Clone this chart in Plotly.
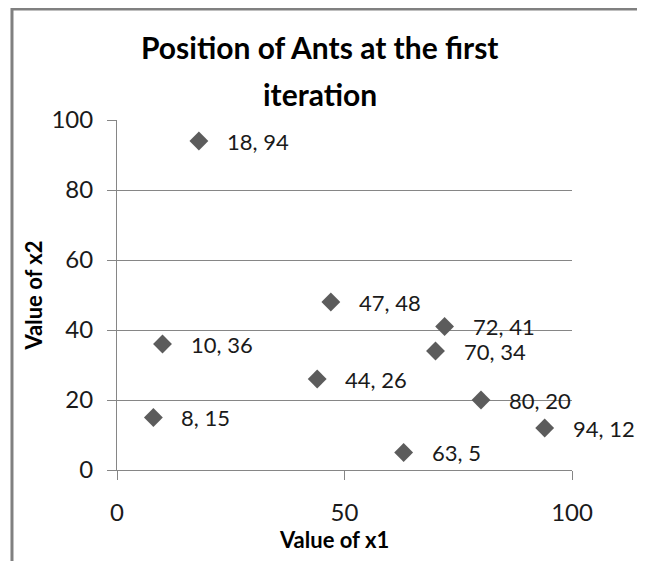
import plotly.graph_objects as go

# Data
x1_values = [18, 47, 72, 10, 70, 44, 80, 8, 94, 63]
x2_values = [94, 48, 41, 36, 34, 26, 20, 15, 12, 5]
x_ticks = [0, 50, 100]
y_ticks = [0, 20, 40, 60, 80, 100]
title_lines = ["Position of Ants at the first", "iteration"]
x_title = "Value of x1"
y_title = "Value of x2"

FONT = "Lato, 'Open Sans', sans-serif"
GRID = "#868686"
TEXT = "#1a1a1a"

fig = go.Figure()
fig.add_trace(go.Scatter(
    x=x1_values, y=x2_values, mode="markers",
    marker=dict(symbol="diamond", size=14.5, color="#5c5c5c", line=dict(width=0)),
    hoverinfo="x+y", showlegend=False,
))

annotations = []
for xv, yv in zip(x1_values, x2_values):
    annotations.append(dict(
        x=xv, y=yv, xref="x", yref="y", text=f"{xv}, {yv}",
        showarrow=False, xanchor="left", yanchor="middle", xshift=26,
        font=dict(family=FONT, size=22, color=TEXT),
    ))

# Title lines
annotations.append(dict(x=0.446, y=1.209, xref="paper", yref="paper", text=title_lines[0],
                        showarrow=False, xanchor="center", yanchor="middle",
                        font=dict(family=FONT, size=30, color="#000000", weight="bold")))
annotations.append(dict(x=0.446, y=1.075, xref="paper", yref="paper", text=title_lines[1],
                        showarrow=False, xanchor="center", yanchor="middle",
                        font=dict(family=FONT, size=30, color="#000000", weight="bold")))
# X axis title
annotations.append(dict(x=0.477, y=-0.198, xref="paper", yref="paper", text=x_title,
                        showarrow=False, xanchor="center", yanchor="middle",
                        font=dict(family=FONT, size=22, color="#000000", weight="bold")))

fig.update_layout(
    width=637, height=553,
    margin=dict(l=109, r=73, t=112, b=91, pad=0),
    paper_bgcolor="white", plot_bgcolor="white",
    font=dict(family=FONT, color=TEXT),
    annotations=annotations,
    shapes=[dict(type="rect", xref="paper", yref="paper",
                 x0=-0.2308, x1=1.5, y0=-1.0, y1=1.317,
                 line=dict(color="#808080", width=3), layer="below")],
)

fig.update_xaxes(
    range=[0, 100], tickvals=x_ticks, ticktext=[str(t) for t in x_ticks],
    showgrid=False, zeroline=False,
    showline=True, linecolor=GRID, linewidth=1,
    ticks="outside", ticklen=9, tickcolor=GRID, tickwidth=1,
    ticklabelstandoff=12,
    tickfont=dict(family=FONT, size=24, color=TEXT),
)
fig.update_yaxes(
    range=[0, 100], tickvals=y_ticks, ticktext=[str(t) for t in y_ticks],
    showgrid=True, gridcolor=GRID, gridwidth=1, zeroline=False,
    showline=True, linecolor=GRID, linewidth=1,
    ticks="outside", ticklen=9, tickcolor=GRID, tickwidth=1,
    ticklabelstandoff=9,
    tickfont=dict(family=FONT, size=24, color=TEXT),
    title=dict(text=y_title, standoff=2,
               font=dict(family=FONT, size=22, color="#000000", weight="bold")),
)

fig.write_html("out.html")
